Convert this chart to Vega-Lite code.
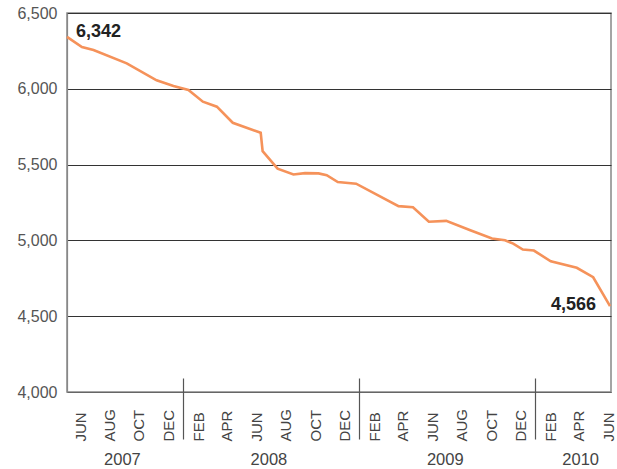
{
  "$schema": "https://vega.github.io/schema/vega-lite/v6.json",
  "width": 544,
  "height": 379,
  "autosize": "none",
  "padding": {"left": 67, "top": 13, "right": 6, "bottom": 77},
  "background": "white",
  "config": {
    "view": {"stroke": "#888", "strokeWidth": 1.5},
    "font": "Liberation Sans"
  },
  "data": {
    "values": [
      {"date": "2007/05/05", "v": 6342},
      {"date": "2007/06/05", "v": 6276},
      {"date": "2007/06/29", "v": 6256},
      {"date": "2007/09/06", "v": 6168},
      {"date": "2007/11/07", "v": 6056},
      {"date": "2007/12/12", "v": 6018},
      {"date": "2008/01/12", "v": 5992},
      {"date": "2008/02/11", "v": 5915},
      {"date": "2008/03/11", "v": 5882},
      {"date": "2008/04/13", "v": 5776},
      {"date": "2008/06/10", "v": 5710},
      {"date": "2008/06/14", "v": 5589},
      {"date": "2008/07/15", "v": 5473},
      {"date": "2008/08/17", "v": 5435},
      {"date": "2008/09/10", "v": 5444},
      {"date": "2008/10/08", "v": 5442},
      {"date": "2008/10/25", "v": 5430},
      {"date": "2008/11/17", "v": 5385},
      {"date": "2008/12/25", "v": 5374},
      {"date": "2009/03/23", "v": 5226},
      {"date": "2009/04/22", "v": 5219},
      {"date": "2009/05/25", "v": 5123},
      {"date": "2009/06/30", "v": 5129},
      {"date": "2009/08/19", "v": 5067},
      {"date": "2009/10/03", "v": 5012},
      {"date": "2009/10/30", "v": 5001},
      {"date": "2009/11/16", "v": 4979},
      {"date": "2009/12/06", "v": 4940},
      {"date": "2009/12/29", "v": 4933},
      {"date": "2010/02/02", "v": 4862},
      {"date": "2010/03/28", "v": 4819},
      {"date": "2010/05/01", "v": 4757},
      {"date": "2010/06/05", "v": 4566}
    ]
  },
  "resolve": {"axis": {"x": "independent"}},
  "encoding": {
    "y": {
      "field": "v",
      "type": "quantitative",
      "scale": {"domain": [4000, 6500], "nice": false, "zero": false},
      "axis": {
        "title": null,
        "values": [4000, 4500, 5000, 5500, 6000, 6500],
        "labelExpr": "format(datum.value, ',')",
        "grid": true,
        "gridColor": {"condition": {"test": "datum.value == 4000", "value": "#666"}, "value": "#333"},
        "gridWidth": 1.2,
        "gridOpacity": 1,
        "ticks": false,
        "domainColor": "#888",
        "domainWidth": 1.2,
        "labelPadding": 10,
        "labelFontSize": 16,
        "labelColor": "#555",
        "labelFont": "Liberation Sans",
        "labelBaseline": "middle"
      }
    }
  },
  "layer": [
    {
      "mark": {"type": "line", "color": "#F5925A", "strokeWidth": 2.6, "interpolate": "linear"},
      "encoding": {
        "x": {
          "field": "date",
          "type": "temporal",
          "scale": {"domain": [{"year": 2007, "month": 5, "date": 5}, {"year": 2010, "month": 6, "date": 7}]},
          "axis": {
            "orient": "bottom",
            "title": null,
            "values": [
              {"year": 2007, "month": 6, "date": 1}, {"year": 2007, "month": 8, "date": 1}, {"year": 2007, "month": 10, "date": 1}, {"year": 2007, "month": 12, "date": 1},
              {"year": 2008, "month": 2, "date": 1}, {"year": 2008, "month": 4, "date": 1}, {"year": 2008, "month": 6, "date": 1}, {"year": 2008, "month": 8, "date": 1}, {"year": 2008, "month": 10, "date": 1}, {"year": 2008, "month": 12, "date": 1},
              {"year": 2009, "month": 2, "date": 1}, {"year": 2009, "month": 4, "date": 1}, {"year": 2009, "month": 6, "date": 1}, {"year": 2009, "month": 8, "date": 1}, {"year": 2009, "month": 10, "date": 1}, {"year": 2009, "month": 12, "date": 1},
              {"year": 2010, "month": 2, "date": 1}, {"year": 2010, "month": 4, "date": 1}, {"year": 2010, "month": 6, "date": 1}
            ],
            "format": "%b",
            "labelExpr": "upper(datum.label)",
            "labelAngle": -90,
            "labelAlign": "left",
            "labelBaseline": "middle",
            "labelPadding": 49,
            "labelFontSize": 15,
            "labelColor": "#444",
            "labelFont": "Liberation Sans",
            "labelOverlap": false,
            "labelFlush": false,
            "ticks": false,
            "grid": false,
            "domainColor": "#666",
            "domainWidth": 1.2
          }
        }
      }
    },
    {
      "mark": {"type": "point", "opacity": 0},
      "encoding": {
        "x": {
          "field": "date",
          "type": "temporal",
          "axis": {
            "orient": "bottom",
            "title": null,
            "values": [{"year": 2008, "month": 1, "date": 1}, {"year": 2009, "month": 1, "date": 1}, {"year": 2010, "month": 1, "date": 1}],
            "offset": -14,
            "tickSize": 61,
            "tickColor": "#555",
            "tickWidth": 1.2,
            "domain": false,
            "labels": false,
            "grid": false
          }
        }
      }
    },
    {
      "mark": {"type": "point", "opacity": 0},
      "encoding": {
        "x": {
          "field": "date",
          "type": "temporal",
          "axis": {
            "orient": "bottom",
            "title": null,
            "values": [{"year": 2007, "month": 8, "date": 27}, {"year": 2008, "month": 6, "date": 26}, {"year": 2009, "month": 6, "date": 27}, {"year": 2010, "month": 4, "date": 4}],
            "format": "%Y",
            "ticks": false,
            "domain": false,
            "grid": false,
            "labelPadding": 67,
            "labelBaseline": "middle",
            "labelAlign": "center",
            "labelAngle": 0,
            "labelFontSize": 16.5,
            "labelColor": "#444",
            "labelFont": "Liberation Sans",
            "labelOverlap": false,
            "labelFlush": false
          }
        }
      }
    },
    {
      "transform": [{"filter": "datum.v == 6342"}],
      "mark": {"type": "text", "align": "left", "baseline": "alphabetic", "dx": 9, "dy": 0, "fontSize": 18, "fontWeight": "bold", "color": "#222", "font": "Liberation Sans"},
      "encoding": {
        "x": {"field": "date", "type": "temporal", "axis": null},
        "text": {"field": "v", "type": "quantitative", "format": ","}
      }
    },
    {
      "transform": [{"filter": "datum.v == 4566"}],
      "mark": {"type": "text", "align": "right", "baseline": "middle", "dx": -14, "dy": -1, "fontSize": 18, "fontWeight": "bold", "color": "#222", "font": "Liberation Sans"},
      "encoding": {
        "x": {"field": "date", "type": "temporal", "axis": null},
        "text": {"field": "v", "type": "quantitative", "format": ","}
      }
    }
  ]
}
